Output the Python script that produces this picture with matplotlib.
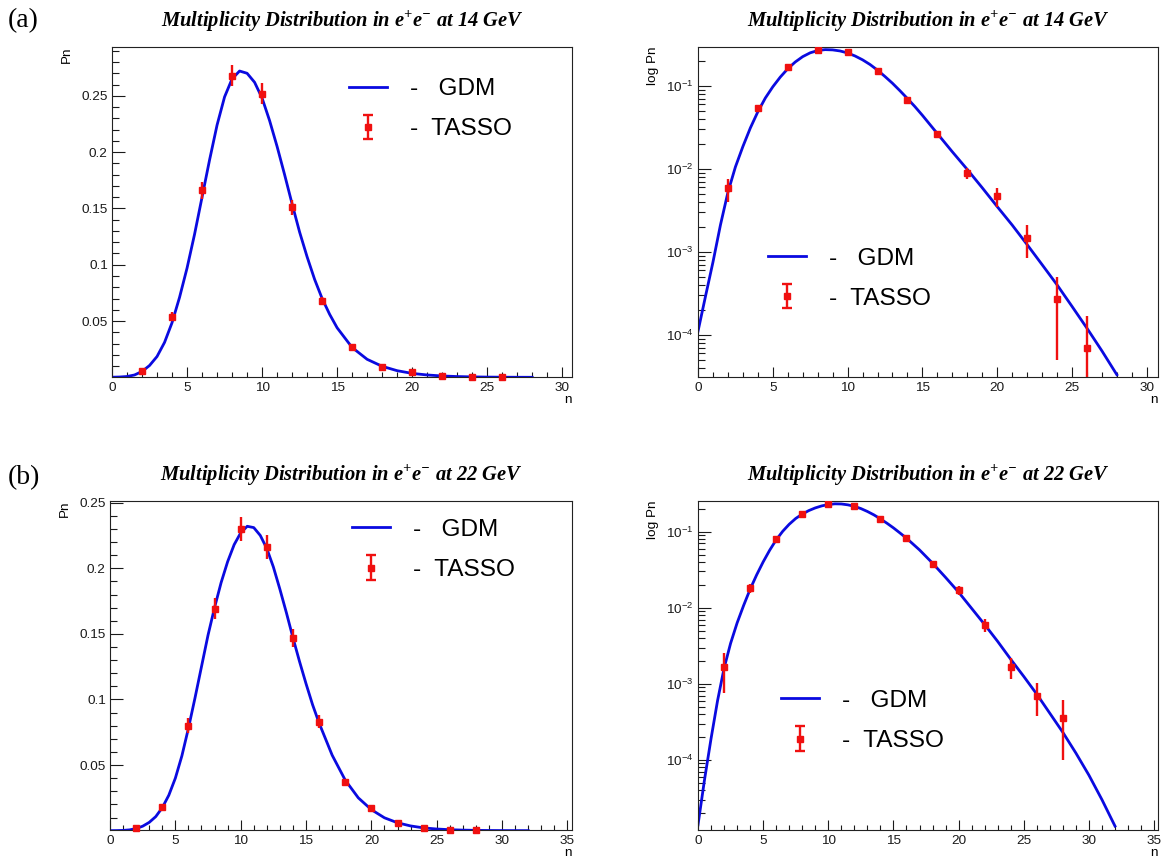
import numpy as np
import matplotlib
matplotlib.use("Agg")
import matplotlib.pyplot as plt
from matplotlib.ticker import MultipleLocator, FuncFormatter, LogLocator, NullFormatter

plt.rcParams['font.family'] = ['Liberation Sans', 'DejaVu Sans']

# --- TASSO data, 14 GeV ---
n14 = [2, 4, 6, 8, 10, 12, 14, 16, 18, 20, 22, 24, 26]
p14 = [0.0058, 0.054, 0.166, 0.268, 0.252, 0.151, 0.068, 0.0265, 0.0089,
       0.0047, 0.00148, 0.00027, 0.00007]
e14 = [0.0018, 0.004, 0.0075, 0.0095, 0.0095, 0.0067, 0.003, 0.0015, 0.0014,
       0.0012, 0.00063, 0.00022, 0.0001]

# --- TASSO data, 22 GeV ---
n22 = [2, 4, 6, 8, 10, 12, 14, 16, 18, 20, 22, 24, 26, 28]
p22 = [0.00165, 0.018, 0.080, 0.169, 0.230, 0.216, 0.147, 0.083, 0.037,
       0.017, 0.0060, 0.00166, 0.00070, 0.00036]
e22 = [0.0009, 0.0025, 0.0055, 0.008, 0.009, 0.009, 0.0067, 0.005, 0.0025,
       0.0025, 0.0012, 0.0005, 0.00032, 0.00026]

# --- GDM curve, 14 GeV ---
gdm14_n = [0, 0.5, 1, 1.5, 2, 2.5, 3, 3.5, 4, 4.5, 5, 5.5, 6, 6.5, 7, 7.5,
           8, 8.5, 9, 9.5, 10, 10.5, 11, 11.5, 12, 12.5, 13, 13.5, 14, 14.5,
           15, 16, 17, 18, 19, 20, 21, 22, 23, 24, 25, 26, 27, 28]
gdm14_p = [1.1e-4, 2.9e-4, 7.5e-4, 2.1e-3, 5.2e-3, 1.05e-2, 1.85e-2, 3.1e-2,
           4.85e-2, 7.1e-2, 9.7e-2, 0.127, 0.160, 0.193, 0.224, 0.249,
           0.265, 0.272, 0.270, 0.262, 0.248, 0.228, 0.205, 0.180, 0.154,
           0.129, 0.107, 0.087, 0.070, 0.056, 0.044, 0.0265, 0.0160, 0.0098,
           0.0059, 0.0035, 0.0021, 0.00122, 0.00070, 0.00040, 0.00022,
           0.000120, 0.000064, 0.000033]

# --- GDM curve, 22 GeV ---
gdm22_n = [0, 0.5, 1, 1.5, 2, 2.5, 3, 3.5, 4, 4.5, 5, 5.5, 6, 6.5, 7, 7.5,
           8, 8.5, 9, 9.5, 10, 10.5, 11, 11.5, 12, 12.5, 13, 13.5, 14, 14.5,
           15, 15.5, 16, 17, 18, 19, 20, 21, 22, 23, 24, 25, 26, 27, 28, 29,
           30, 31, 32]
gdm22_p = [1.4e-5, 5.5e-5, 1.9e-4, 6.0e-4, 1.6e-3, 3.4e-3, 6.3e-3, 1.07e-2,
           1.75e-2, 2.70e-2, 4.0e-2, 5.7e-2, 7.8e-2, 0.101, 0.125, 0.149,
           0.170, 0.189, 0.205, 0.218, 0.227, 0.232, 0.231, 0.225, 0.215,
           0.201, 0.184, 0.166, 0.147, 0.129, 0.112, 0.096, 0.082, 0.0575,
           0.0385, 0.025, 0.016, 0.0098, 0.0060, 0.0036, 0.0021, 0.00125,
           0.00073, 0.00041, 0.00023, 0.000123, 0.000063, 0.000030, 0.0000135]

BLUE = "#0a0ae0"
RED = "#f01010"
W, H = 1163, 859


def rect(left, top, right, bottom):
    return [left / W, 1 - bottom / H, (right - left) / W, (bottom - top) / H]


def panel(ax, gn, gp, dn, dp, de, title, ylabel, log, xmax, ylim, leg_xy):
    line, = ax.plot(gn, gp, color=BLUE, lw=2.0, zorder=2)
    eb = ax.errorbar(dn, dp, yerr=de, fmt="s", color=RED, ms=4.5, lw=1.7,
                     capsize=0, zorder=3)
    if not log:
        for art in [eb.lines[0]] + list(eb.lines[2]):
            art.set_clip_on(False)
    # legend-only copy with caps (ROOT draws them in the legend box)
    proxy = ax.errorbar(dn, dp, yerr=de, fmt="s", color=RED, ms=4.5, lw=1.7,
                        capsize=3.5, capthick=1.7)
    proxy.remove()

    ax.set_xlim(0, xmax)
    if log:
        ax.set_yscale("log")
        ax.yaxis.set_minor_locator(LogLocator(base=10, subs=np.arange(2, 10), numticks=20))
        ax.yaxis.set_minor_formatter(NullFormatter())
    else:
        ax.yaxis.set_major_locator(MultipleLocator(0.05))
        ax.yaxis.set_minor_locator(MultipleLocator(0.01))
        ax.yaxis.set_major_formatter(FuncFormatter(lambda v, p: f"{v:g}"))
    ax.set_ylim(*ylim)
    ax.xaxis.set_major_locator(MultipleLocator(5))
    ax.xaxis.set_minor_locator(MultipleLocator(1))

    ax.tick_params(which="both", direction="in", top=False, right=False,
                   labelsize=9.7, colors="#1a1a1a", width=0.8)
    ax.tick_params(axis="x", which="major", length=7.2, pad=3.5)
    ax.tick_params(axis="x", which="minor", length=3.6)
    ax.tick_params(axis="y", which="major", length=9.4, pad=3)
    ax.tick_params(axis="y", which="minor", length=5)
    for s in ax.spines.values():
        s.set_linewidth(0.8)
        s.set_color("#222222")

    bw = ax.get_position().width * W
    bh = ax.get_position().height * H
    ax.text(1.0, -23 / bh, "n", transform=ax.transAxes, ha="right", va="center",
            fontsize=9.7)
    ax.text(-45 / bw, 1.0, ylabel, transform=ax.transAxes, ha="center", va="top",
            rotation=90, fontsize=9.7)
    ax.text(0.5, 1 + 26 / bh, title, transform=ax.transAxes, ha="center",
            va="center", fontsize=14.8, family="Liberation Serif",
            weight="bold", style="italic")

    ax.legend(handles=[line, proxy], labels=["-   GDM", "-  TASSO"],
              loc="center left", bbox_to_anchor=leg_xy, frameon=False,
              fontsize=17.6, handlelength=1.56, handletextpad=0.94,
              labelspacing=0.74, borderpad=0, borderaxespad=0, numpoints=1)


fig = plt.figure(figsize=(W / 100, H / 100), dpi=100)

t14 = r"Multiplicity Distribution in e$^{\mathdefault{+}}$e$^{\mathdefault{-}}$ at 14 GeV"
t22 = r"Multiplicity Distribution in e$^{\mathdefault{+}}$e$^{\mathdefault{-}}$ at 22 GeV"

ax1 = fig.add_axes(rect(112, 46.7, 572, 377))
panel(ax1, gdm14_n, gdm14_p, n14, p14, e14, t14, "Pn", False, 30.65,
      (0.0003, 0.2936), (0.515, 0.811))

ax2 = fig.add_axes(rect(698, 46.7, 1158, 377))
panel(ax2, gdm14_n, gdm14_p, n14, p14, e14, t14, "log Pn", True, 30.75,
      (3.1e-5, 0.295), (0.152, 0.298))

ax3 = fig.add_axes(rect(110, 500.7, 572, 830))
panel(ax3, gdm22_n, gdm22_p, n22, p22, e22, t22, "Pn", False, 35.35,
      (0.0005, 0.2515), (0.524, 0.850))

ax4 = fig.add_axes(rect(698, 500.7, 1158, 830))
panel(ax4, gdm22_n, gdm22_p, n22, p22, e22, t22, "log Pn", True, 35.3,
      (1.2e-5, 0.255), (0.180, 0.331))

fig.text(8 / W, 1 - 21 / H, "(a)", ha="left", va="center", fontsize=20,
         family="Liberation Serif")
fig.text(8 / W, 1 - 478 / H, "(b)", ha="left", va="center", fontsize=20,
         family="Liberation Serif")

fig.savefig("out.png", dpi=100)
